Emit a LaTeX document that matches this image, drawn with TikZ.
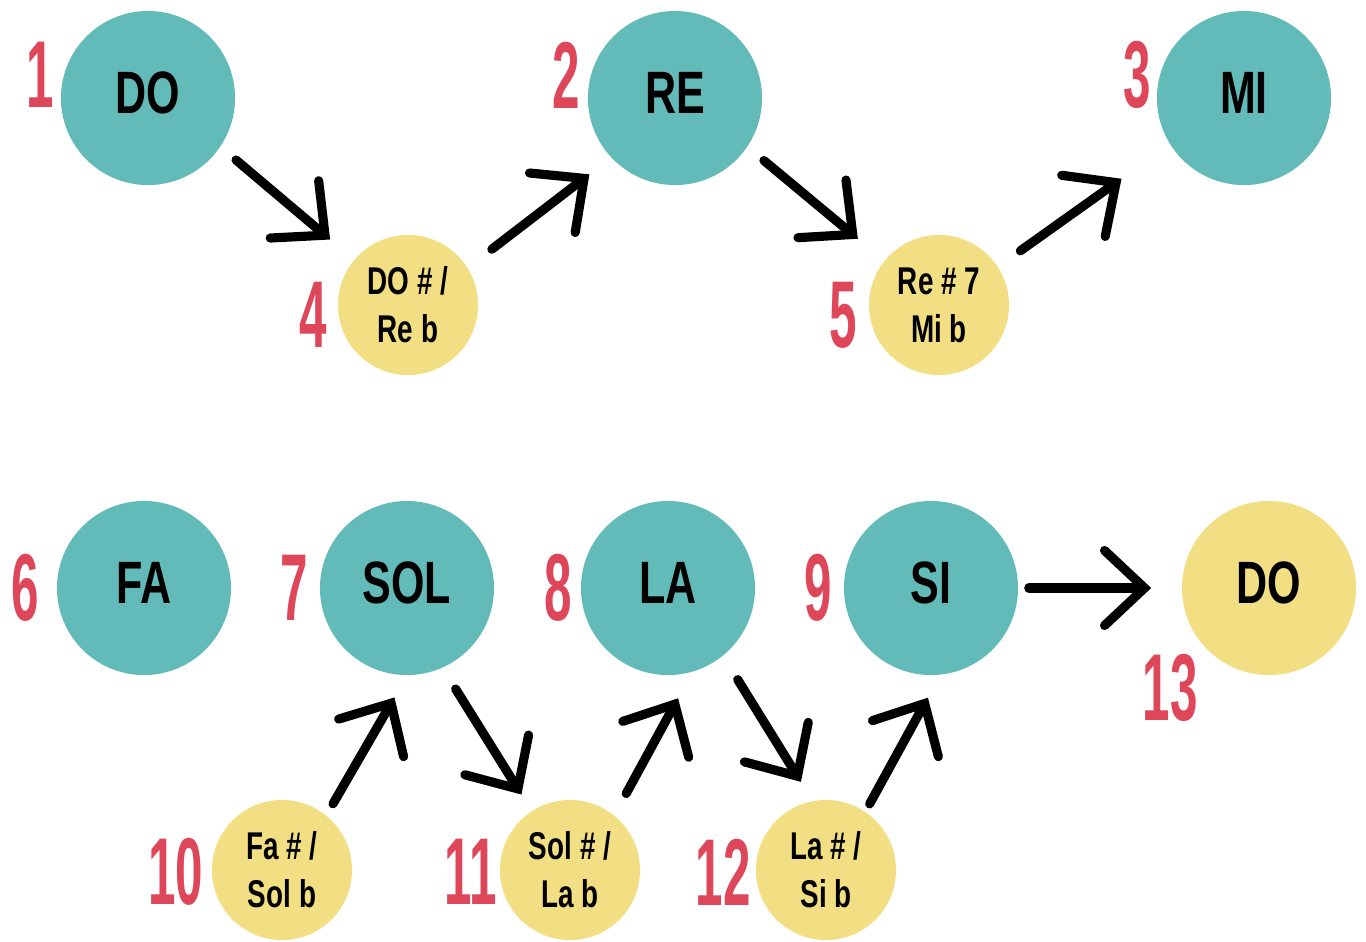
\documentclass[tikz,border=0pt]{standalone}
\usepackage{fontspec}
\setmainfont{Liberation Sans}[FakeStretch=0.72]
\newfontfamily\numfont{Liberation Sans}[FakeStretch=0.52]
\usetikzlibrary{arrows.meta}
\definecolor{noteteal}{HTML}{62BBB9}
\definecolor{halfyellow}{HTML}{F3DF83}
\definecolor{numred}{HTML}{DE4659}

\begin{document}
\begin{tikzpicture}[x=0.01cm,y=-0.01cm,
    note/.style={circle,fill=noteteal,minimum size=1.74cm,inner sep=0pt,
      text height=0.42cm,text depth=0.12cm,
      font=\bfseries\fontsize{17}{17}\selectfont},
    half/.style={circle,fill=halfyellow,minimum size=1.4cm,inner sep=0pt,
      align=center,font=\bfseries\fontsize{11}{13.6}\selectfont},
    num/.style={text=numred,font=\numfont\bfseries\fontsize{27}{27}\selectfont},
    jump/.style={line width=2.6pt,line cap=round,
      -{Straight Barb[length=4mm,width=7.5mm,line cap=round]}}]
    \useasboundingbox (0,0) rectangle (1366,941);
    % whole notes
    \node[note] (do) at (148,98) {DO};
    \node[note] (re) at (675,98) {RE};
    \node[note] (mi) at (1244,98) {MI};
    \node[note] (fa) at (144,588) {FA};
    \node[note] (sol) at (407,588) {SOL};
    \node[note] (la) at (668,588) {LA};
    \node[note] (si) at (931,588) {SI};
    \node[note,fill=halfyellow] (dohi) at (1269,588) {DO};
    % sharps / flats
    \node[half] (dos) at (408,305) {DO \# /\\Re b};
    \node[half] (res) at (939,305) {Re \# 7\\Mi b};
    \node[half] (fas) at (282,870) {Fa \# /\\Sol b};
    \node[half] (sols) at (570,870) {Sol \# /\\La b};
    \node[half] (las) at (826,870) {La \# /\\Si b};
    % numbers
    \node[num] (n1) at (40,75) {1};
    \node[num] (n2) at (566,75) {2};
    \node[num] (n3) at (1137,75) {3};
    \node[num] (n4) at (313,315) {4};
    \node[num] (n5) at (843,315) {5};
    \node[num] (n6) at (25,588) {6};
    \node[num] (n7) at (294,588) {7};
    \node[num] (n8) at (558,588) {8};
    \node[num] (n9) at (818,588) {9};
    \node[num] (n10) at (176,872) {10};
    \node[num] (n11) at (471,872) {11};
    \node[num] (n12) at (723,872) {12};
    \node[num] (n13) at (1170,688) {13};
    % steps
    \draw[jump,shorten <=0.2cm,shorten >=0.31cm] (do.-34) -- (dos.140);
    \draw[jump,shorten <=0.3cm,shorten >=0.27cm] (dos.32) -- (re.-137);
    \draw[jump,shorten <=0.21cm,shorten >=0.34cm] (re.-34) -- (res.141);
    \draw[jump,shorten <=0.27cm,shorten >=0.59cm] (res.33) -- (mi.-148);
    \draw[jump,shorten <=0.1cm,shorten >=0.3cm] (si.0) -- (dohi.180);
    \draw[jump,shorten <=0.13cm,shorten >=0.25cm] (fas.51) -- (sol.-90);
    \draw[jump,shorten <=0.245cm,shorten >=0.19cm] (sol.-66) -- (sols.123);
    \draw[jump,shorten <=0.245cm,shorten >=0.295cm] (sols.51) -- (la.-74);
    \draw[jump,shorten <=0.275cm,shorten >=0.22cm] (la.-51) -- (las.101);
    \draw[jump,shorten <=0.085cm,shorten >=0.255cm] (las.56) -- (si.-84);
  \end{tikzpicture}
\end{document}
